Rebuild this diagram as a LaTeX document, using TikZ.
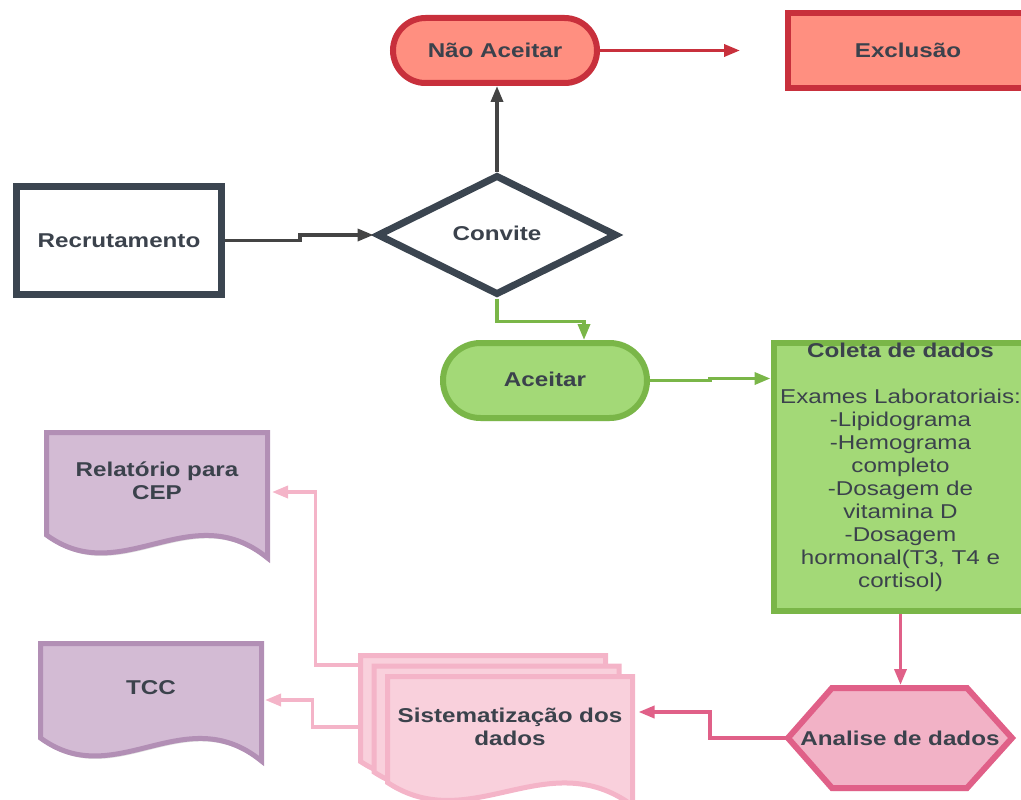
\documentclass[tikz,border=0pt]{standalone}
\usepackage{fontspec}
\setmainfont{Liberation Sans}[FakeStretch=1.21]
\usetikzlibrary{shapes.geometric,shapes.misc,arrows.meta,calc,shadows}
\definecolor{txt}{RGB}{59,66,76}
\definecolor{darkb}{RGB}{59,69,80}
\definecolor{grayarr}{RGB}{68,68,68}
\definecolor{redb}{RGB}{200,48,60}
\definecolor{redf}{RGB}{255,143,128}
\definecolor{greenb}{RGB}{122,182,72}
\definecolor{greenf}{RGB}{163,217,119}
\definecolor{pinkb}{RGB}{224,96,136}
\definecolor{pinkf}{RGB}{242,178,198}
\definecolor{lpinkb}{RGB}{244,180,200}
\definecolor{lpinkf}{RGB}{249,208,220}
\definecolor{purpb}{RGB}{178,143,181}
\definecolor{purpf}{RGB}{211,187,212}
\newcommand\docshape[2]{%
  \path[#2] (#1.north west) -- (#1.north east) -- ([yshift=-23pt]#1.south east)
    .. controls ($(#1.south west)!0.65!(#1.south east)+(0,40pt)$)
       and ($(#1.south west)!0.34!(#1.south east)+(0,-55pt)$) .. (#1.south west) -- cycle;}
\begin{document}
\begin{tikzpicture}[x=1pt,y=-1pt,
  lbl/.style={font=\fontsize{20}{23}\selectfont\bfseries, text=txt, inner sep=0pt, align=center},
  shd/.style={drop shadow={shadow xshift=1pt, shadow yshift=-3pt, opacity=0.12, fill=black}},
  recbox/.style={lbl, shd, rectangle, draw=darkb, line width=7pt, fill=white, minimum width=205pt, minimum height=108pt},
  decbox/.style={lbl, shd, diamond, draw=darkb, line width=7pt, fill=white, minimum width=240pt, minimum height=120pt},
  redpill/.style={lbl, shd, rounded rectangle, draw=redb, line width=6pt, fill=redf, minimum width=204pt, minimum height=65pt},
  redbox/.style={lbl, shd, rectangle, draw=redb, line width=6pt, fill=redf, minimum width=240pt, minimum height=75pt},
  greenpill/.style={lbl, shd, rounded rectangle, draw=greenb, line width=6pt, fill=greenf, minimum width=204pt, minimum height=75pt},
  greenbox/.style={lbl, shd, rectangle, draw=greenb, line width=6pt, fill=greenf, minimum width=254pt, minimum height=265pt},
  frame/.style={inner sep=0pt, outer sep=0pt, draw=none},
  hexsty/.style={draw=pinkb, line width=6pt, fill=pinkf, line join=miter, shd},
  purpdoc/.style={draw=purpb, line width=5pt, fill=purpf, shd},
  pinkdoc/.style={draw=lpinkb, line width=5pt, fill=lpinkf},
  tip/.style={-{Triangle[length=16pt,width=12pt]}},
  garr/.style={tip, draw=grayarr, line width=3.5pt},
  rarr/.style={tip, draw=redb, line width=3.5pt},
  grarr/.style={tip, draw=greenb, line width=3.5pt},
  parr/.style={tip, draw=pinkb, line width=3.5pt},
  lparr/.style={tip, draw=lpinkb, line width=3.5pt}
]
\useasboundingbox (0,0) rectangle (1021,800);
\clip (0,0) rectangle (1021,800);

% main nodes
\node[redpill] (na) at (495,50.5) {Não Aceitar};
\node[redbox] (ex) at (908,50.5) {Exclusão};
\node[recbox] (rec) at (119,240.5) {Recrutamento};
\node[decbox] (cv) at (497,235) {\raisebox{3pt}{Convite}};
\node[greenpill] (ac) at (545,380.5) {\raisebox{2pt}{Aceitar}};
\node[greenbox] (co) at (900.5,477) {Coleta de dados\\[23pt]
  \mdseries Exames Laboratoriais:\\ \mdseries -Lipidograma\\ \mdseries -Hemograma\\ \mdseries completo\\
  \mdseries -Dosagem de\\ \mdseries vitamina D\\ \mdseries -Dosagem\\ \mdseries hormonal(T3, T4 e\\ \mdseries cortisol)\\ \mbox{}};

% hexagon
\node[frame, minimum width=224pt, minimum height=100pt] (an) at (900,738) {};
\path[hexsty] (an.west) -- ([xshift=44pt]an.north west) -- ([xshift=-45pt]an.north east)
  -- (an.east) -- ([xshift=-45pt]an.south east) -- ([xshift=44pt]an.south west) -- cycle;
\node[lbl] (ant) at (an.center) {Analise de dados};

% documents
\node[frame, minimum width=221pt, minimum height=102.5pt] (rel) at (157,483.75) {};
\docshape{rel}{purpdoc}
\node[lbl] (relt) at ([yshift=3pt]rel.center) {Relatório para\\CEP};

\node[frame, minimum width=221pt, minimum height=94.5pt] (tcc) at (151,690.75) {};
\docshape{tcc}{purpdoc}
\node[lbl] (tcct) at ([yshift=3pt]tcc.center) {TCC};

% stacked documents
\node[frame, minimum width=245pt, minimum height=106pt] (sb) at (483,708.5) {};
\node[frame, minimum width=245pt, minimum height=106pt] (sm) at (496.5,719) {};
\node[frame, minimum width=245pt, minimum height=106pt] (si) at (510,729.5) {};
\docshape{sb}{pinkdoc}
\docshape{sm}{pinkdoc}
\docshape{si}{pinkdoc}
\node[lbl] (sit) at ([yshift=3pt]si.center) {Sistematização dos\\dados};

% connectors
\draw[garr] (rec.east) -- ++(75,0) |- (cv.west);
\draw[garr] (cv.north) -- (cv.north |- na.south);
\draw[rarr] (na.east) -- ([xshift=-45pt]ex.west);
\draw[grarr] (cv.south) -- ++(0,23) -| ([xshift=39pt]ac.north);
\draw[grarr] (ac.east) -- ++(60,0) |- ([yshift=98.5pt]co.west);
\draw[parr, shorten >=3pt] (co.south) -- (co.south |- an.north);
\draw[parr] (an.west) -- ++(-78,0) |- ([xshift=6pt,yshift=17.5pt]si.east);
\draw[lparr] ([yshift=43.5pt]sb.west) -- ++(-45,0) |- ([xshift=4.5pt,yshift=-8.25pt]rel.east);
\draw[lparr] ([yshift=-18.5pt]sb.west) -- ++(-48,0) |- ([xshift=3.5pt,yshift=-9.25pt]tcc.east);
\end{tikzpicture}
\end{document}
